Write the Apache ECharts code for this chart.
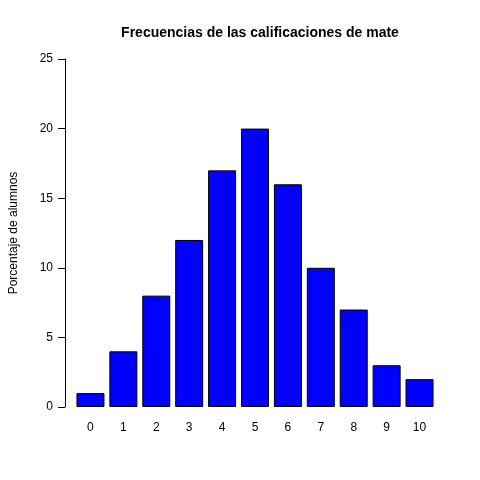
<!DOCTYPE html>
<html><head><meta charset="utf-8">
<script src="https://cdn.jsdelivr.net/npm/echarts@6/dist/echarts.min.js"></script>
<style>html,body{margin:0;background:#fff}#c{width:480px;height:480px}</style>
</head><body><div id="c"></div>
<script>
const categories = ['0','1','2','3','4','5','6','7','8','9','10'];
const values = [1,4,8,12,17,20,16,10,7,3,2];
const yTicks = [0,5,10,15,20,25];
const chart = echarts.init(document.getElementById('c'));
chart.setOption({
  animation:false,
  title:{text:'Frecuencias de las calificaciones de mate',left:255,top:21,textAlign:'center',
    textStyle:{fontFamily:'Liberation Sans',fontSize:14,fontWeight:'bold',color:'#000'}},
  grid:{left:68,right:44,top:59,bottom:73},
  xAxis:{type:'category',data:categories,axisLine:{show:false},axisTick:{show:false},
    axisLabel:{margin:15,color:'#000',fontFamily:'Liberation Sans',fontSize:12}},
  yAxis:{type:'value',min:0,max:25,interval:5,offset:9,splitLine:{show:false},
    axisLine:{show:true,lineStyle:{color:'#000'}},axisTick:{show:true,length:7,lineStyle:{color:'#000'}},
    axisLabel:{margin:12,color:'#000',fontFamily:'Liberation Sans',fontSize:12},
    name:'Porcentaje de alumnos',nameLocation:'middle',nameGap:45,
    nameTextStyle:{color:'#000',fontFamily:'Liberation Sans',fontSize:12}},
  series:[{type:'bar',data:values,barWidth:28,
    itemStyle:{color:'#0000ff',borderColor:'#000',borderWidth:1}}]
});
</script></body></html>
